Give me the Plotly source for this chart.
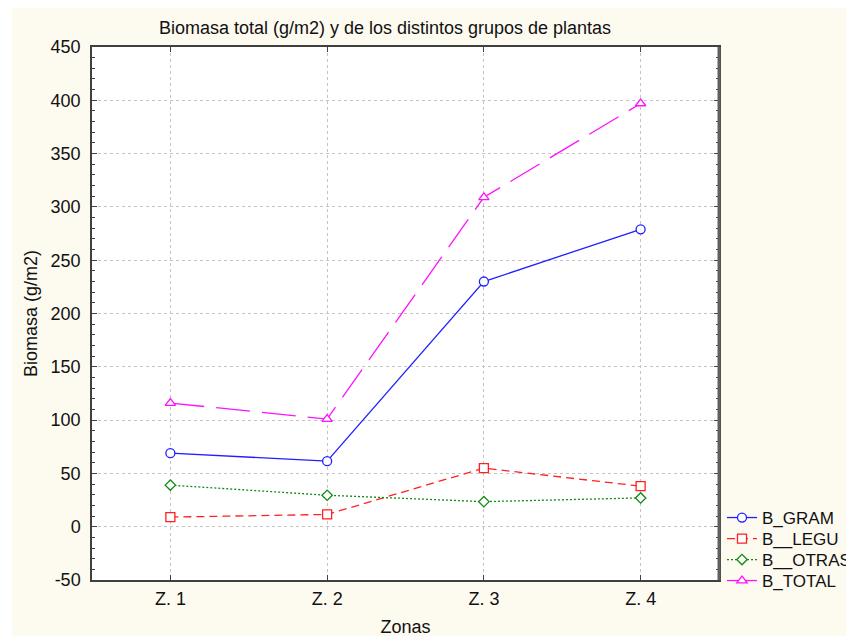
import plotly.graph_objects as go

zonas = ["Z. 1", "Z. 2", "Z. 3", "Z. 4"]
zona_pos = [1, 2, 3, 4]
b_gram = [69, 61.5, 230, 279]
b_legu = [9, 11.5, 55, 38]
b_otras = [39, 29.5, 23.5, 27]
b_total = [116, 101, 309, 397]
y_ticks = [-50, 0, 50, 100, 150, 200, 250, 300, 350, 400, 450]
y_tick_labels = ["-50", "0", "50", "100", "150", "200", "250", "300", "350", "400", "450"]

FONT = "Liberation Sans, Arial, sans-serif"

# page body has an 8px margin; work in figure coords = reference coords - 8
OFF = 8
W, H = 854, 641
PL, PR, PT, PB = 92 - OFF, 719 - OFF, 47 - OFF, 580 - OFF
pw, ph = PR - PL, PB - PT

def px(x_ref):
    return (x_ref - OFF - PL) / pw

def py(y_ref):
    return (PB - (y_ref - OFF)) / ph

series = [
    ("B_GRAM", b_gram, "#1F1FFF", "solid", "circle", 9, "legend", 518),
    ("B__LEGU", b_legu, "#FF2020", "8px,5px", "square", 9, "legend2", 539),
    ("B__OTRAS", b_otras, "#108A10", "2px,2px", "diamond", 8, "legend3", 560),
    ("B_TOTAL", b_total, "#FF10FF", "34px,12px", "triangle-up", 9, "legend4", 581),
]

fig = go.Figure()
legends = {}
for name, vals, col, dash, sym, sz, leg, ly in series:
    fig.add_trace(go.Scatter(
        x=zona_pos, y=vals, name=name, mode="lines+markers", legend=leg,
        line=dict(color=col, width=1.3, dash=dash),
        marker=dict(symbol=sym, size=sz, color="white",
                    line=dict(color=col, width=1.3)),
    ))
    legends[leg] = dict(x=px(722), xanchor="left", y=py(ly), yanchor="middle",
                        bgcolor="rgba(0,0,0,0)", borderwidth=0,
                        font=dict(size=17, family=FONT, color="#111111"),
                        itemwidth=30)

fig.update_layout(
    width=W, height=H,
    margin=dict(l=PL, r=W - PR, t=PT, b=H - PB, autoexpand=False),
    paper_bgcolor="white",
    plot_bgcolor="white",
    font=dict(family=FONT, size=18, color="#111111"),
    title=dict(text="Biomasa total (g/m2) y de los distintos grupos de plantas",
               xref="container", yref="container",
               x=(385 - OFF) / W, xanchor="center",
               y=1 - (28 - OFF) / H, yanchor="middle",
               font=dict(size=18, family=FONT, color="#111111")),
    showlegend=True,
    shapes=[
        dict(type="rect", xref="paper", yref="paper", layer="below",
             x0=px(12), x1=px(870), y0=py(636), y1=py(0),
             fillcolor="#FDFAF0", line=dict(width=0)),
        dict(type="rect", xref="paper", yref="paper", layer="below",
             x0=0, x1=1, y0=0, y1=1,
             fillcolor="white", line=dict(width=0)),
        dict(type="line", xref="paper", yref="paper",
             x0=1, x1=1, y0=0, y1=1,
             line=dict(color="#606060", width=3)),
    ],
    **legends,
)

fig.update_xaxes(
    range=[0.5, 4.5], tickvals=zona_pos, ticktext=zonas,
    showgrid=True, gridcolor="#C4C4C4", griddash="dot", gridwidth=1,
    showline=True, linecolor="#404040", linewidth=1.5, mirror="ticks",
    ticks="inside", ticklen=5, tickcolor="#404040",
    ticklabelstandoff=2,
    zeroline=False,
    title=dict(text="Zonas", standoff=12, font=dict(size=18, family=FONT)),
)
fig.update_yaxes(
    range=[-50, 450], tickvals=y_ticks, ticktext=y_tick_labels,
    showgrid=True, gridcolor="#C4C4C4", griddash="dot", gridwidth=1,
    showline=True, linecolor="#404040", linewidth=1.5, mirror="ticks",
    ticks="inside", ticklen=5, tickcolor="#404040",
    ticklabelstandoff=6,
    minor=dict(tickvals=[v for v in range(-50, 451, 10) if v % 50],
               ticks="inside", ticklen=3, tickcolor="#404040", showgrid=False),
    zeroline=False,
    title=dict(text="Biomasa (g/m2)", standoff=8, font=dict(size=18, family=FONT)),
)

fig.write_html("out.html")
